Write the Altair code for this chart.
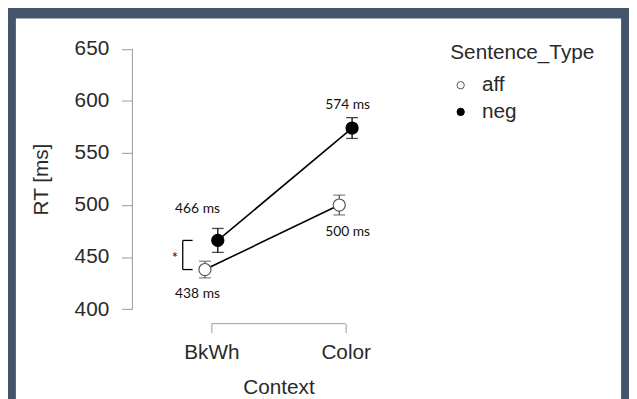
import altair as alt
import pandas as pd

# ---- data ----
contexts = ["BkWh", "Color"]
sentence_types = ["aff", "neg"]
rt_aff = [438, 500]
rt_neg = [466, 574]
err_aff = [8, 9.5]
err_neg = [11.5, 10]
y_ticks = [400, 450, 500, 550, 600, 650]

rows = []
for st, rts, errs in [("aff", rt_aff, err_aff), ("neg", rt_neg, err_neg)]:
    for c, rt, e in zip(contexts, rts, errs):
        rows.append({"Context": c, "Sentence_Type": st, "RT": rt,
                     "lo": rt - e, "hi": rt + e, "label": f"{rt} ms"})
df = pd.DataFrame(rows)

# ---- style ----
W, H = 296, 293
FONT = "Liberation Sans"
AFONT = "Lato"
TXT = "#2a2a2a"
AXC = "#9a9a9a"

x_scale = alt.Scale(type="point", domain=contexts, padding=0.588)
y_scale = alt.Scale(domain=[386, 664], nice=False, zero=False)
fill_scale = alt.Scale(domain=sentence_types, range=["white", "black"])
stroke_scale = alt.Scale(domain=sentence_types, range=["#555555", "black"])

x_axis = alt.Axis(domain=False, grid=False, ticks=True, tickSize=9, tickColor=AXC,
                  tickWidth=1, labelFont=FONT, labelFontSize=21, labelColor=TXT,
                  labelPadding=9, labelAngle=0, titleFont=FONT, titleFontSize=21,
                  titleColor=TXT, titleFontWeight="normal", titlePadding=15, zindex=1)
y_axis = alt.Axis(domain=False, grid=False, values=y_ticks, tickSize=11, tickColor=AXC,
                  tickWidth=1, labelFont=FONT, labelFontSize=21, labelColor=TXT,
                  labelPadding=13, titleFont=FONT, titleFontSize=21, titleColor=TXT,
                  titleFontWeight="normal", titlePadding=23, zindex=1)


def X():
    return alt.X("Context:N", scale=x_scale, axis=x_axis, title="Context")


def Y(field):
    return alt.Y(f"{field}:Q", scale=y_scale, axis=y_axis, title="RT [ms]")


base = alt.Chart(df)
one = alt.Data(values=[{}])

# white panel inside the dark frame
panel = alt.Chart(one).mark_rect(color="white", strokeWidth=0).encode(
    x=alt.value(-118), x2=alt.value(495), y=alt.value(-16), y2=alt.value(400))

# R-style axis lines (tick to tick)
y_line = alt.Chart(one).mark_rule(color=AXC, strokeWidth=1).encode(
    x=alt.value(0), y=alt.YDatum(y_ticks[0], scale=y_scale, axis=y_axis, title="RT [ms]"),
    y2=alt.Y2Datum(y_ticks[-1]))
x_line = alt.Chart(one).mark_rule(color=AXC, strokeWidth=1).encode(
    y=alt.value(H), x=alt.XDatum(contexts[0], scale=x_scale, axis=x_axis, title="Context"),
    x2=alt.X2Datum(contexts[-1]))

layers = [panel, y_line, x_line]

offsets = {"aff": -6.5, "neg": 6.5}
for st in sentence_types:
    sub = base.transform_filter(alt.datum.Sentence_Type == st)
    off = offsets[st]
    col = "#555555" if st == "aff" else "black"
    layers.append(sub.mark_line(color="black", strokeWidth=1.6, xOffset=off).encode(
        x=X(), y=Y("RT")))
    layers.append(sub.mark_rule(color=col, strokeWidth=1.3, xOffset=off).encode(
        x=X(), y=Y("lo"), y2="hi:Q"))
    for f in ["lo", "hi"]:
        layers.append(sub.mark_tick(orient="horizontal", size=12, thickness=1.3,
                                    color=col, xOffset=off).encode(x=X(), y=Y(f)))

legend = alt.Legend(title="Sentence_Type", orient="none", legendX=322, legendY=8,
                    padding=0, titleFont=FONT, titleFontSize=21, titleColor=TXT,
                    titleFontWeight="normal", titlePadding=12, labelFont=FONT,
                    labelFontSize=21, labelColor=TXT, labelOffset=11, rowPadding=5,
                    symbolType="circle", symbolSize=55, symbolStrokeWidth=1)
for st in sentence_types:
    sub = base.transform_filter(alt.datum.Sentence_Type == st)
    layers.append(sub.mark_point(filled=True, shape="circle", size=150, strokeWidth=1.2,
                                 opacity=1, xOffset=offsets[st]).encode(
        x=X(), y=Y("RT"),
        fill=alt.Fill("Sentence_Type:N", scale=fill_scale, legend=legend),
        stroke=alt.Stroke("Sentence_Type:N", scale=stroke_scale, legend=legend)))

# value annotations
ann_offsets = {("aff", "BkWh"): (-14, 25), ("neg", "BkWh"): (-14, -32),
               ("aff", "Color"): (2, 27), ("neg", "Color"): (2, -23)}
for (st, c), (dx, dy) in ann_offsets.items():
    layers.append(base.transform_filter(
        (alt.datum.Sentence_Type == st) & (alt.datum.Context == c)).mark_text(
        dx=dx, dy=dy, font=AFONT, fontSize=14, color="#111111", baseline="middle").encode(
        x=X(), y=Y("RT"), text="label:N"))

# significance bracket at BkWh
bk = base.transform_filter(alt.datum.Context == contexts[0])
layers.append(bk.transform_aggregate(bmin="min(RT)", bmax="max(RT)", groupby=["Context"])
              .mark_rule(color="black", strokeWidth=1.3, xOffset=-29)
              .encode(x=X(), y=Y("bmin"), y2="bmax:Q"))
layers.append(bk.mark_rule(color="black", strokeWidth=1.3, xOffset=-29, x2Offset=-19)
              .encode(x=X(), x2=alt.X2("Context:N"), y=Y("RT")))
layers.append(bk.transform_aggregate(mid="mean(RT)", groupby=["Context"])
              .mark_text(text="*", dx=-37, dy=3, font=AFONT, fontSize=15, color="#111111")
              .encode(x=X(), y=Y("mid")))

chart = alt.layer(*layers).properties(
    width=W, height=H, background="#44546a",
    padding={"left": 8, "top": 8, "right": 8, "bottom": 0},
).configure_view(stroke=None)

chart.save("out.html", embed_options={"renderer": "svg", "actions": False})
